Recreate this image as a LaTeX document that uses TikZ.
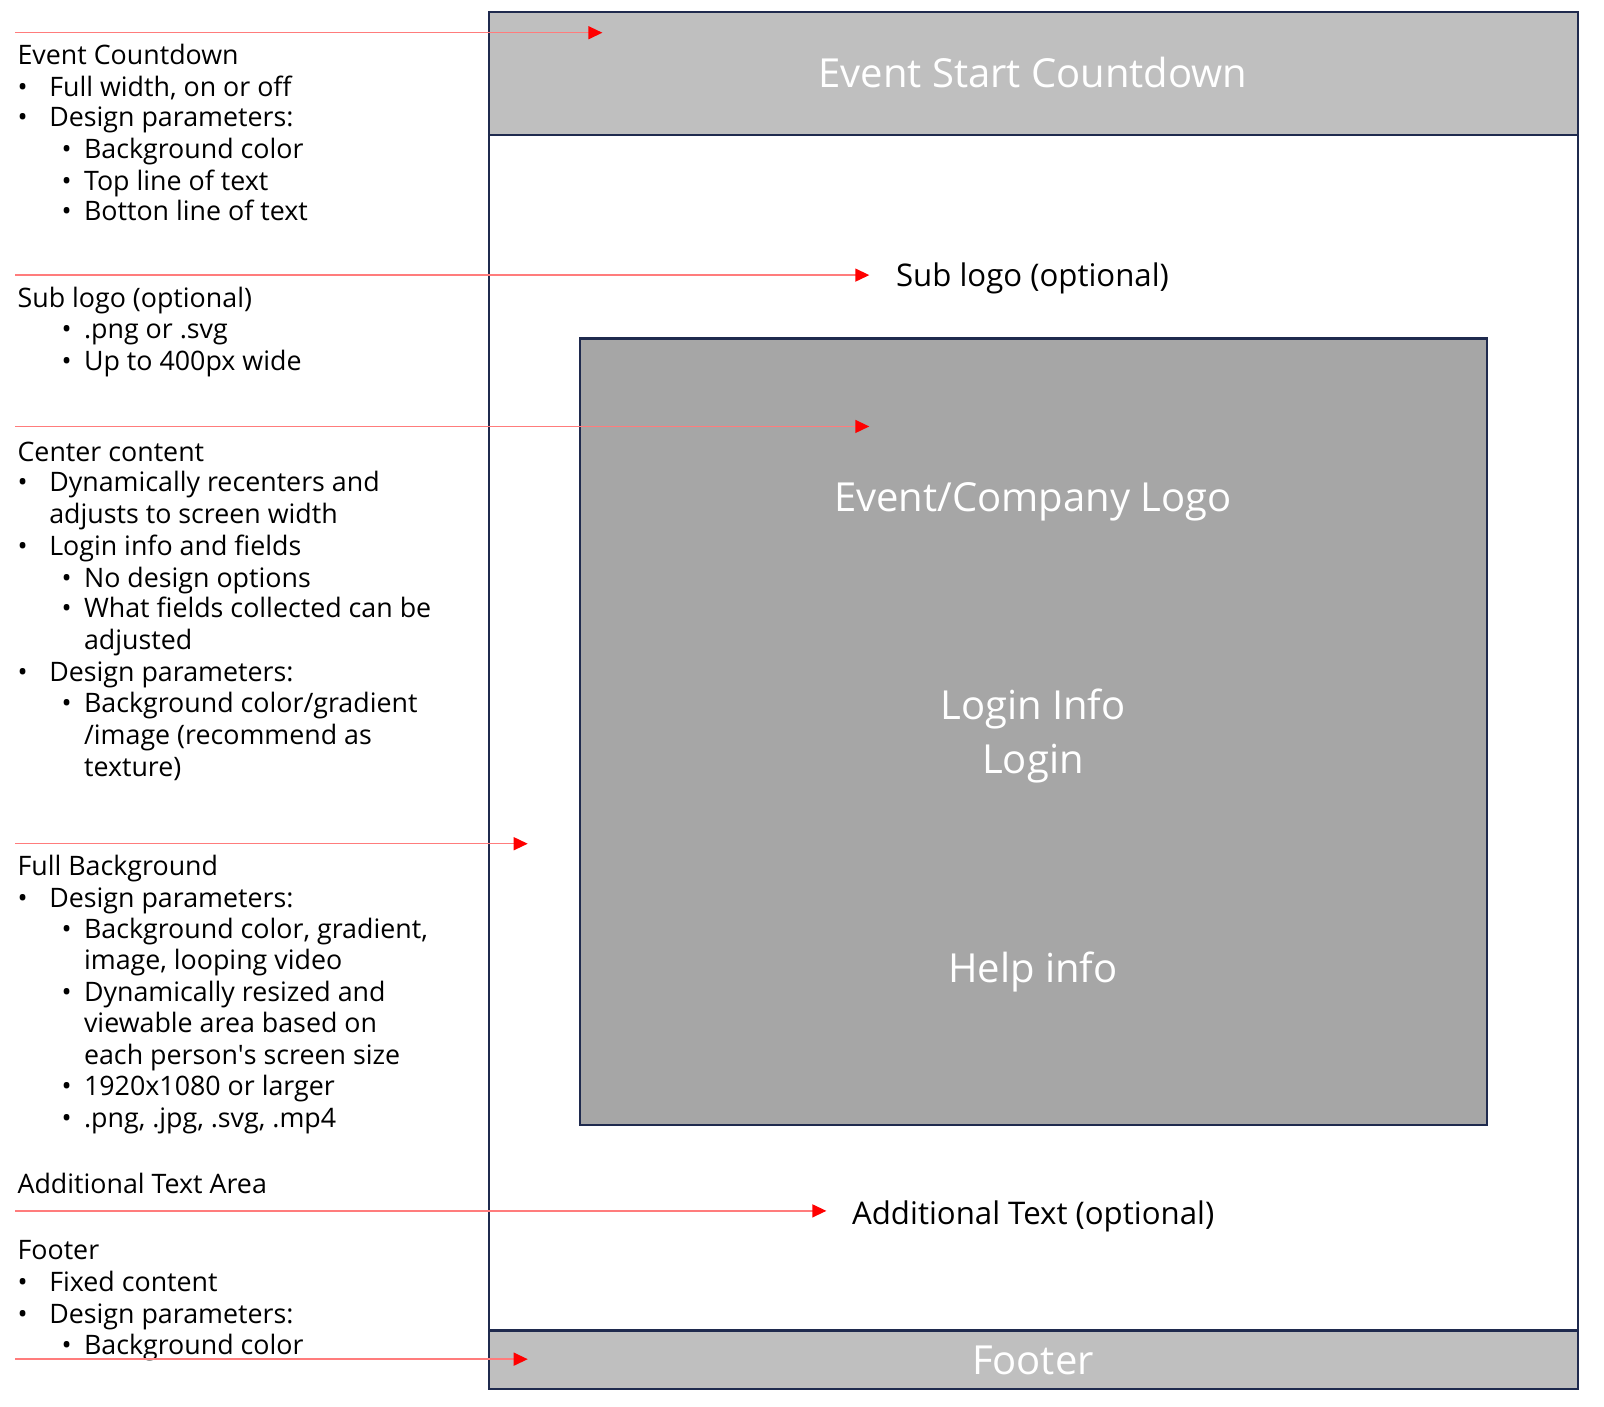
\documentclass[tikz,border=0pt]{standalone}
\usepackage{fontspec}
\setmainfont{Open Sans}
\newfontfamily\plainfont{Open Sans}
\usetikzlibrary{arrows.meta}
\definecolor{navy}{HTML}{1F2A4E}
\definecolor{barfill}{HTML}{BFBFBF}
\definecolor{boxfill}{HTML}{A6A6A6}
\definecolor{arrline}{HTML}{FF7C7C}
\begin{document}
\begin{tikzpicture}[x=1.0227pt,y=-1.0227pt,
  lt/.style={anchor=base west,inner sep=0pt,font=\fontsize{26.8}{30}\selectfont,text=black},
  wt/.style={anchor=base,inner sep=0pt,font=\fontsize{40}{46}\selectfont,text=white},
  bt/.style={anchor=base west,inner sep=0pt,font=\fontsize{31.2}{36}\selectfont,text=black},
  frame/.style={draw=navy,line width=2.2pt},
  arr/.style={draw=arrline,line width=1.4pt,-{Triangle[length=14pt,width=13pt,color=red]}}]
\useasboundingbox (0,0) rectangle (1568.4,1374.8);
% outer frame and bars
\draw[frame,fill=white] (478,12) rectangle (1543,1358);
\draw[frame,fill=barfill] (478,12) rectangle (1543,132);
\draw[frame,fill=barfill] (478,1301) rectangle (1543,1358);
\draw[frame,fill=boxfill] (567,331) rectangle (1454,1100);
% right texts
\node[wt] (topbar) at (1010,86) {Event Start Countdown};
\node[wt] (logo) at (1010,500) {Event/Company Logo};
\node[wt] (logininfo) at (1010,704) {Login Info};
\node[wt] (login) at (1010,756) {Login};
\node[wt] (help) at (1010,961) {Help info};
\node[wt] (footer) at (1010,1344) {Footer};
\node[bt] (sublogo) at (876,280) {Sub logo (optional)};
\node[bt] (addtext) at (833,1197) {Additional Text (optional)};
% block 1
\node[lt] (h1) at (17,63) {Event Countdown};
\node[lt] (b11) at (17,94) {•}; \node[lt] (t11) at (48,94) {Full width, on or off};
\node[lt] (b12) at (17,124) {•}; \node[lt] (t12) at (48,124) {Design parameters:};
\node[lt] (b13) at (60,155) {•}; \node[lt] (t13) at (82,155) {Background color};
\node[lt] (b14) at (60,186) {•}; \node[lt] (t14) at (82,186) {Top line of text};
\node[lt] (b15) at (60,216) {•}; \node[lt] (t15) at (82,216) {Botton line of text};
% block 2
\node[lt] (h2) at (17,301) {Sub logo (optional)};
\node[lt] (b21) at (60,331) {•}; \node[lt] (t21) at (82,331) {.png or .svg};
\node[lt] (b22) at (60,362) {•}; \node[lt] (t22) at (82,362) {Up to 400px wide};
% block 3
\node[lt] (h3) at (17,451) {Center content};
\node[lt] (b31) at (17,481) {•}; \node[lt] (t31) at (48,481) {Dynamically recenters and};
\node[lt] (t31b) at (48,512) {adjusts to screen width};
\node[lt] (b32) at (17,543) {•}; \node[lt] (t32) at (48,543) {Login info and fields};
\node[lt] (b33) at (60,574) {•}; \node[lt] (t33) at (82,574) {No design options};
\node[lt] (b34) at (60,604) {•}; \node[lt] (t34) at (82,604) {What fields collected can be};
\node[lt] (t34b) at (82,635) {adjusted};
\node[lt] (b35) at (17,666) {•}; \node[lt] (t35) at (48,666) {Design parameters:};
\node[lt] (b36) at (60,697) {•}; \node[lt] (t36) at (82,697) {Background color/gradient};
\node[lt] (t36b) at (82,728) {/image (recommend as};
\node[lt] (t36c) at (82,759) {texture)};
% block 4
\node[lt] (h4) at (17,856) {Full Background};
\node[lt] (b41) at (17,887) {•}; \node[lt] (t41) at (48,887) {Design parameters:};
\node[lt] (b42) at (60,918) {•}; \node[lt] (t42) at (82,918) {Background color, gradient,};
\node[lt] (t42b) at (82,948) {image, looping video};
\node[lt] (b43) at (60,979) {•}; \node[lt] (t43) at (82,979) {Dynamically resized and};
\node[lt] (t43b) at (82,1010) {viewable area based on};
\node[lt] (t43c) at (82,1041) {each person{\plainfont '}s screen size};
\node[lt] (b44) at (60,1071) {•}; \node[lt] (t44) at (82,1071) {1920x1080 or larger};
\node[lt] (b45) at (60,1102) {•}; \node[lt] (t45) at (82,1102) {.png, .jpg, .svg, .mp4};
% block 5
\node[lt] (h5) at (17,1167) {Additional Text Area};
% block 6
\node[lt] (h6) at (17,1232) {Footer};
\node[lt] (b61) at (17,1263) {•}; \node[lt] (t61) at (48,1263) {Fixed content};
\node[lt] (b62) at (17,1294) {•}; \node[lt] (t62) at (48,1294) {Design parameters:};
\node[lt] (b63) at (60,1324) {•}; \node[lt] (t63) at (82,1324) {Background color};
% arrows
\coordinate (a1s) at (15,32);   \coordinate (a1e) at (589,32);
\coordinate (a2s) at (15,269);  \coordinate (a2e) at (850,269);
\coordinate (a3s) at (15,417);  \coordinate (a3e) at (850,417);
\coordinate (a4s) at (15,825);  \coordinate (a4e) at (516,825);
\coordinate (a5s) at (15,1184); \coordinate (a5e) at (808,1184);
\coordinate (a6s) at (15,1329); \coordinate (a6e) at (516,1329);
\draw[arr] (a1s) -- (a1e);
\draw[arr] (a2s) -- (a2e);
\draw[arr] (a3s) -- (a3e);
\draw[arr] (a4s) -- (a4e);
\draw[arr] (a5s) -- (a5e);
\draw[arr] (a6s) -- (a6e);
\end{tikzpicture}
\end{document}
